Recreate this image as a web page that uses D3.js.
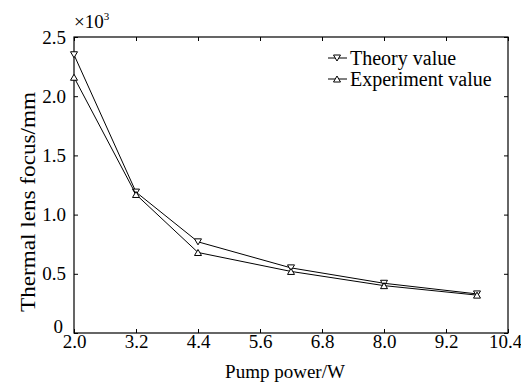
<!DOCTYPE html>
<html><head><meta charset="utf-8">
<script src="https://cdn.jsdelivr.net/npm/d3@7"></script>
<style>body{margin:0;background:#fff}svg{display:block}text{font-family:"Liberation Serif","Times New Roman",serif;fill:#000}</style>
</head><body><svg id="c" width="521" height="383"></svg>
<script>
const power = [2.0, 3.2, 4.4, 6.2, 8.0, 9.8];
const theory = [2.35, 1.19, 0.77, 0.55, 0.42, 0.33];
const experiment = [2.16, 1.17, 0.68, 0.52, 0.40, 0.32];
const xTicks = [2.0, 3.2, 4.4, 5.6, 6.8, 8.0, 9.2, 10.4];
const yTicks = [0, 0.5, 1.0, 1.5, 2.0, 2.5];
const seriesNames = ["Theory value", "Experiment value"];

const svg = d3.select("#c");
const L = 74, R = 508, T = 37, B = 333;
const x = d3.scaleLinear().domain([2.0, 10.4]).range([L, R]);
const y = d3.scaleLinear().domain([0, 2.5]).range([B, T]);
const fs = 19;

svg.append("rect").attr("x", L).attr("y", T).attr("width", R - L).attr("height", B - T)
  .attr("fill", "none").attr("stroke", "#000").attr("stroke-width", 1.2);

const tk = 4;
const gx = svg.append("g").attr("transform", `translate(0,${B})`)
  .call(d3.axisBottom(x).tickValues(xTicks).tickSizeInner(-tk).tickSizeOuter(0).tickPadding(1).tickFormat(d3.format(".1f")));
gx.select(".domain").remove();
gx.selectAll("text").attr("font-size", fs).attr("font-family", "Liberation Serif");
gx.selectAll(".tick").filter(d => d === 10.4).select("text").attr("dx", -3);
const gxt = svg.append("g").attr("transform", `translate(0,${T})`)
  .call(d3.axisTop(x).tickValues(xTicks).tickSizeInner(-tk).tickSizeOuter(0).tickFormat(""));
gxt.select(".domain").remove();

const gy = svg.append("g").attr("transform", `translate(${L},0)`)
  .call(d3.axisLeft(y).tickValues(yTicks).tickSizeInner(-tk).tickSizeOuter(0).tickPadding(8)
    .tickFormat(d => d === 0 ? "0" : d3.format(".1f")(d)));
gy.select(".domain").remove();
gy.selectAll("text").attr("font-size", fs).attr("font-family", "Liberation Serif");
gy.selectAll(".tick").filter(d => d === 0).select("text").attr("dy", "-0.05em").attr("x", -11);
const gyr = svg.append("g").attr("transform", `translate(${R},0)`)
  .call(d3.axisRight(y).tickValues(yTicks).tickSizeInner(-tk).tickSizeOuter(0).tickFormat(""));
gyr.select(".domain").remove();

const mt = svg.append("text").attr("x", L).attr("y", 28).attr("font-size", 19);
mt.append("tspan").text("×10");
mt.append("tspan").attr("font-size", 11).attr("dy", -8).text("3");

svg.append("text").attr("x", (L + R) / 2 - 6).attr("y", 378).attr("text-anchor", "middle")
  .attr("font-size", fs).text("Pump power/W");
svg.append("text").attr("transform", `translate(35,202) rotate(-90)`)
  .attr("text-anchor", "middle").attr("font-size", 20)
  .attr("textLength", 220).attr("lengthAdjust", "spacingAndGlyphs").text("Thermal lens focus/mm");

const line = d3.line().x(d => x(d[0])).y(d => y(d[1]));
const down = "M-3.5,-3L3.5,-3L0,3Z", up = "M-3.5,3L3.5,3L0,-3Z";
function series(vals, shape) {
  const pts = power.map((p, i) => [p, vals[i]]);
  svg.append("path").datum(pts).attr("d", line).attr("fill", "none").attr("stroke", "#000").attr("stroke-width", 1);
  svg.selectAll(null).data(pts).enter().append("path")
    .attr("transform", d => `translate(${x(d[0])},${y(d[1])})`).attr("d", shape)
    .attr("fill", "#fff").attr("stroke", "#000").attr("stroke-width", 1);
}
series(theory, down);
series(experiment, up);

const legY = [58, 79];
[down, up].forEach((s, i) => {
  svg.append("line").attr("x1", 328).attr("x2", 347).attr("y1", legY[i]).attr("y2", legY[i]).attr("stroke", "#000");
  svg.append("path").attr("transform", `translate(337,${legY[i]})`).attr("d", s).attr("fill", "#fff").attr("stroke", "#000");
  svg.append("text").attr("x", 350).attr("y", legY[i] + 7).attr("font-size", 20).text(seriesNames[i]);
});
</script></body></html>
